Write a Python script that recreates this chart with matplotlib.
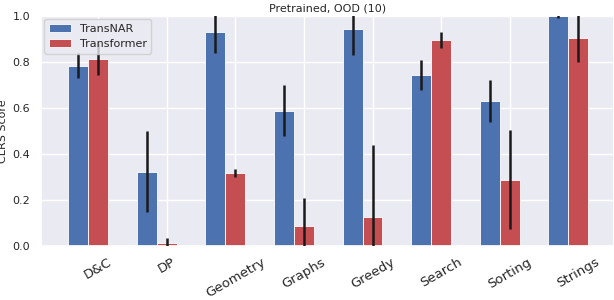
import numpy as np
import matplotlib
matplotlib.use('Agg')
import matplotlib.pyplot as plt
import seaborn as sns

CATEGORIES = ['D&C', 'DP', 'Geometry', 'Graphs', 'Greedy', 'Search', 'Sorting', 'Strings']

NAR_MEAN = [0.783, 0.322, 0.929, 0.588, 0.943, 0.745, 0.629, 0.998]
NAR_LOW = [0.730, 0.148, 0.839, 0.480, 0.830, 0.678, 0.540, 0.990]
NAR_HIGH = [0.840, 0.500, 1.050, 0.700, 1.050, 0.809, 0.722, 1.050]

TF_MEAN = [0.814, 0.012, 0.319, 0.088, 0.127, 0.897, 0.288, 0.906]
TF_LOW = [0.745, 0.000, 0.300, 0.000, 0.000, 0.862, 0.074, 0.800]
TF_HIGH = [0.883, 0.035, 0.335, 0.209, 0.440, 0.929, 0.504, 1.050]

sns.set_theme(style='darkgrid')

x = np.arange(len(CATEGORIES))
width = 0.29

fig = plt.figure(figsize=(6.14, 3.0), dpi=100)
ax = fig.add_axes([0.067, 0.18, 0.933, 0.767])

nar = np.array(NAR_MEAN)
tf = np.array(TF_MEAN)
nar_err = [nar - np.array(NAR_LOW), np.array(NAR_HIGH) - nar]
tf_err = [tf - np.array(TF_LOW), np.array(TF_HIGH) - tf]

ax.bar(x - width, nar, width, color='#4C72B0', edgecolor='white', lw=0.6,
       label='TransNAR', zorder=2)
ax.bar(x, tf, width, color='#C44E52', edgecolor='white', lw=0.6,
       label='Transformer', zorder=2)
ax.errorbar(x - width, nar, yerr=nar_err, fmt='none', ecolor='#1a1a1a',
            elinewidth=1.8, capsize=0, zorder=3)
ax.errorbar(x, tf, yerr=tf_err, fmt='none', ecolor='#1a1a1a',
            elinewidth=1.8, capsize=0, zorder=3)

ax.set_xticks(x)
ax.set_xticklabels(CATEGORIES, rotation=30, fontsize=9.5)
ax.tick_params(axis='y', labelsize=8, pad=2)
ax.tick_params(axis='x', pad=1)
ax.set_xlim(-0.83, 7.52)
ax.set_ylim(0, 1.0)
ax.set_yticks([0.0, 0.2, 0.4, 0.6, 0.8, 1.0])
ax.set_ylabel('CLRS Score', fontsize=8)
ax.yaxis.set_label_coords(-0.057, 0.5)
ax.set_title('Pretrained, OOD (10)', fontsize=8, pad=3)
ax.legend(loc='upper left', fontsize=8, borderaxespad=0.3)

fig.savefig('out.png', dpi=100)
